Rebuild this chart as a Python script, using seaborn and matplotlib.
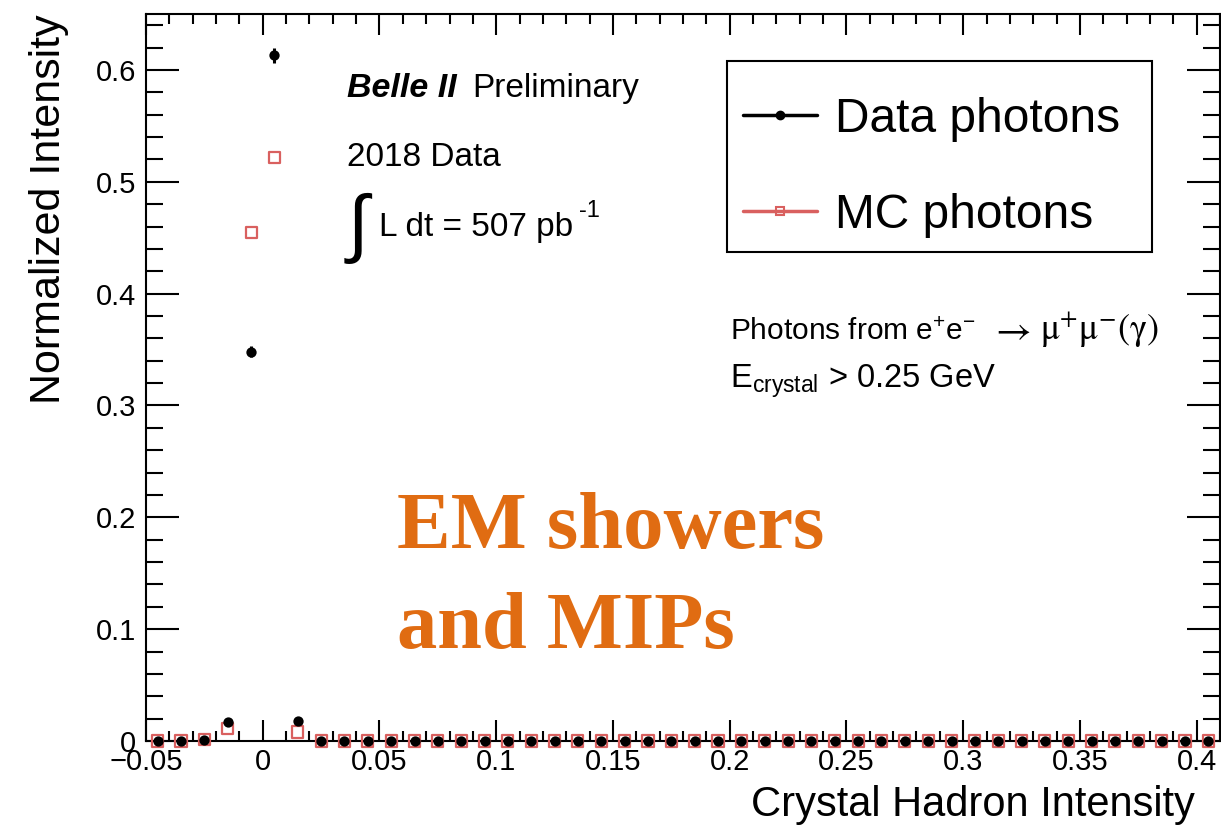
import numpy as np
import pandas as pd
import seaborn as sns
import matplotlib.pyplot as plt
from matplotlib.lines import Line2D
from matplotlib.patches import Rectangle
from matplotlib.ticker import MultipleLocator, FuncFormatter

# bin centres of the crystal hadron intensity histogram (width 0.01)
bin_centers = np.round(np.arange(-0.045, 0.41, 0.01), 3)

data_vals = [0, 0, 0.001, 0.017, 0.348, 0.613, 0.018, 0, 0, 0,
             0, 0, 0, 0, 0, 0, 0, 0, 0, 0,
             0, 0, 0, 0, 0, 0, 0, 0, 0, 0,
             0, 0, 0, 0, 0, 0, 0, 0, 0, 0,
             0, 0, 0, 0, 0, 0]
data_err = [0, 0, 0.0005, 0.002, 0.005, 0.007, 0.002, 0, 0, 0,
            0, 0, 0, 0, 0, 0, 0, 0, 0, 0,
            0, 0, 0, 0, 0, 0, 0, 0, 0, 0,
            0, 0, 0, 0, 0, 0, 0, 0, 0, 0,
            0, 0, 0, 0, 0, 0]
mc_vals = [0, 0, 0.001, 0.011, 0.455, 0.522, 0.008, 0, 0, 0,
           0, 0, 0, 0, 0, 0, 0, 0, 0, 0,
           0, 0, 0, 0, 0, 0, 0, 0, 0, 0,
           0, 0, 0, 0, 0, 0, 0, 0, 0, 0,
           0, 0, 0, 0, 0, 0]

labels = ['Data photons', 'MC photons']
data_color = 'black'
mc_color = '#d9605f'
note_color = '#e06c12'

df_data = pd.DataFrame({'x': bin_centers, 'y': data_vals, 'err': data_err})
df_mc = pd.DataFrame({'x': bin_centers, 'y': mc_vals})

sns.set_style('ticks')
plt.rcParams['font.family'] = ['Liberation Sans', 'DejaVu Sans']
plt.rcParams['mathtext.fontset'] = 'custom'
plt.rcParams['mathtext.rm'] = 'Liberation Sans'
plt.rcParams['mathtext.it'] = 'Liberation Sans:italic'
plt.rcParams['mathtext.bf'] = 'Liberation Sans:bold'
for key in ['text.color', 'axes.labelcolor', 'xtick.color', 'ytick.color',
            'axes.edgecolor']:
    plt.rcParams[key] = 'black'

fig = plt.figure(figsize=(12.21, 8.30), dpi=100)
ax = fig.add_axes([146 / 1221, 1 - 741 / 830, 1074 / 1221, 727 / 830])

sns.scatterplot(data=df_mc, x='x', y='y', ax=ax, marker='s', s=64,
                facecolor='none', edgecolor=mc_color, linewidth=1.6,
                clip_on=False, zorder=3)
ax.errorbar(df_data['x'], df_data['y'], yerr=df_data['err'], fmt='none',
            ecolor=data_color, elinewidth=2.2, capsize=0, zorder=4)
sns.scatterplot(data=df_data, x='x', y='y', ax=ax, marker='o', s=55,
                color=data_color, edgecolor=data_color, linewidth=0,
                clip_on=False, zorder=5)

ax.set_xlim(-0.05, 0.41)
ax.set_ylim(0, 0.65)

ax.xaxis.set_major_locator(MultipleLocator(0.05))
ax.xaxis.set_minor_locator(MultipleLocator(0.01))
ax.yaxis.set_major_locator(MultipleLocator(0.1))
ax.yaxis.set_minor_locator(MultipleLocator(0.02))
fmt = FuncFormatter(lambda v, p: ('%g' % round(v, 3)).replace('-', '\u2212'))
ax.xaxis.set_major_formatter(fmt)
ax.yaxis.set_major_formatter(fmt)

ax.tick_params(axis='both', which='both', direction='in', top=True,
               right=True, width=1.5, labelsize=21)
ax.tick_params(axis='x', which='major', length=15, pad=5)
ax.tick_params(axis='x', which='minor', length=7.5)
ax.tick_params(axis='y', which='major', length=24, pad=7)
ax.tick_params(axis='y', which='minor', length=12)
for sp in ax.spines.values():
    sp.set_linewidth(1.5)

ax.set_xlabel('Crystal Hadron Intensity', fontsize=30, ha='right')
ax.xaxis.set_label_coords(0.977, -0.06)
ax.set_ylabel('Normalized Intensity', fontsize=31, ha='right')
ax.yaxis.set_label_coords(-0.072, 1.0)

# annotations
ax.text(0.187, 0.886, 'Belle II', transform=ax.transAxes, fontsize=24.5,
        fontweight='bold', fontstyle='italic', va='baseline')
ax.text(0.3035, 0.886, 'Preliminary', transform=ax.transAxes, fontsize=24,
        va='baseline')
ax.text(0.187, 0.791, '2018 Data', transform=ax.transAxes, fontsize=24,
        va='baseline')
ax.text(0.184, 0.678, r'$\int$', transform=ax.transAxes, fontsize=54,
        va='baseline', family='DejaVu Sans')
ax.text(0.2165, 0.695, 'L dt = 507 pb', transform=ax.transAxes,
        fontsize=24, va='baseline')
ax.text(0.403, 0.721, '-1', transform=ax.transAxes, fontsize=17,
        va='baseline')
ax.text(0.5438, 0.552, r'Photons from e$^{+}$e$^{-}$',
        transform=ax.transAxes, fontsize=21.5, va='baseline')
ax.text(0.786, 0.552, r'$\rightarrow$', transform=ax.transAxes,
        fontsize=28, va='baseline', math_fontfamily='stix')
ax.text(0.8324, 0.552,
        r'$\mathrm{\mu}^{+}\mathrm{\mu}^{-}(\mathrm{\gamma})$',
        transform=ax.transAxes, fontsize=26, va='baseline',
        math_fontfamily='stix')
ax.text(0.5438, 0.4856, r'E$_{\mathrm{crystal}}$ > 0.25 GeV',
        transform=ax.transAxes, fontsize=23.5, va='baseline')
ax.text(0.234, 0.2655, 'EM showers', transform=ax.transAxes, fontsize=58,
        fontweight='bold', color=note_color, va='baseline',
        family='Liberation Serif')
ax.text(0.234, 0.128, 'and MIPs', transform=ax.transAxes, fontsize=58,
        fontweight='bold', color=note_color, va='baseline',
        family='Liberation Serif')

# legend: frame drawn as a rectangle, entries placed inside it
ax.add_patch(Rectangle((0.541, 0.6726), 0.3957, 0.2628,
                       transform=ax.transAxes, facecolor='white',
                       edgecolor='black', linewidth=1.5, zorder=6))
handles = [Line2D([], [], color=data_color, lw=2.5, marker='o', ms=6),
           Line2D([], [], color=mc_color, lw=2.5, marker='s', ms=6,
                  mfc='none', mew=1.5)]
leg = ax.legend(handles, labels, loc='upper left',
                bbox_to_anchor=(0.540, 0.909), borderaxespad=0,
                fontsize=34.5, frameon=False, handlelength=1.55,
                handletextpad=0.37, borderpad=0.35, labelspacing=1.06)
leg.set_zorder(7)

fig.savefig('out.png', dpi=100)
